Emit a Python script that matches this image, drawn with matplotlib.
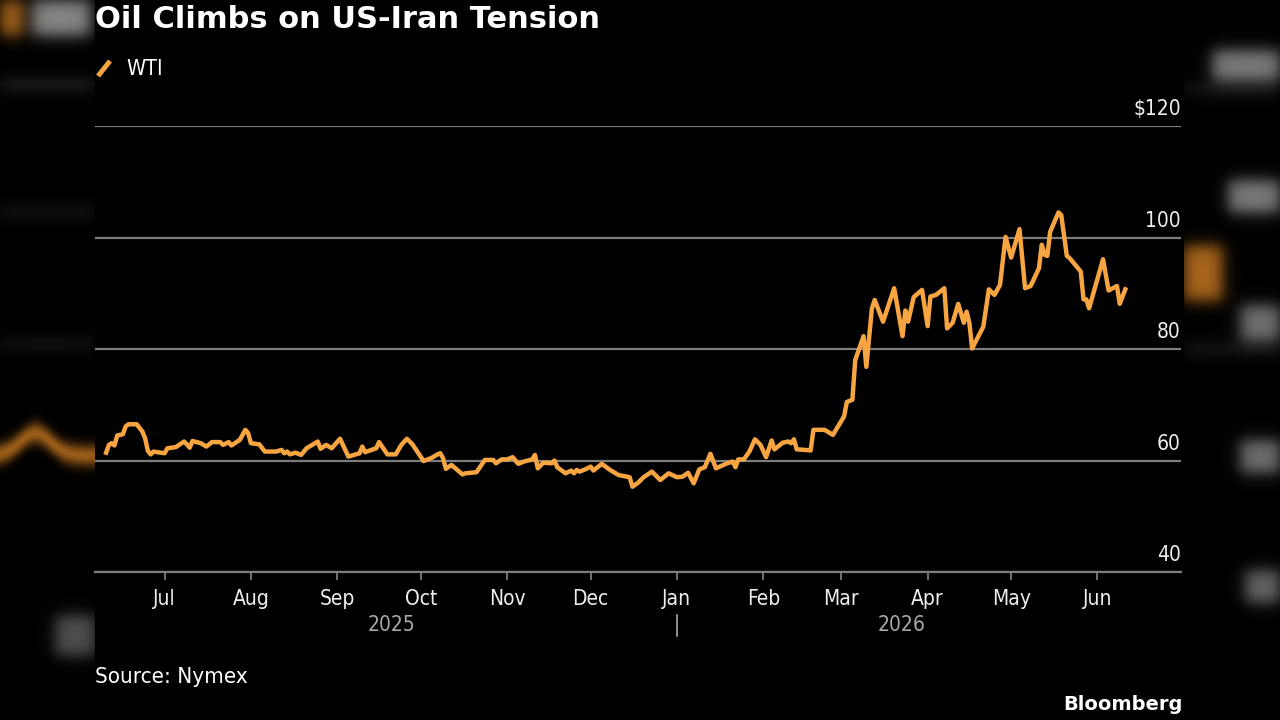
import numpy as np
import pandas as pd
import matplotlib
matplotlib.use('Agg')
import matplotlib.pyplot as plt
import matplotlib.dates as mdates
import matplotlib.transforms as mtransforms

plt.rcParams['font.family'] = ['DejaVu Sans']
plt.rcParams['font.stretch'] = 'condensed'

# WTI front-month price
dates = ['2025-06-10', '2025-06-11', '2025-06-12', '2025-06-13', '2025-06-14', '2025-06-16',
         '2025-06-17', '2025-06-18', '2025-06-21', '2025-06-23', '2025-06-24', '2025-06-25',
         '2025-06-26', '2025-06-27', '2025-07-01', '2025-07-02', '2025-07-05', '2025-07-08',
         '2025-07-09', '2025-07-10', '2025-07-11', '2025-07-14', '2025-07-16', '2025-07-18',
         '2025-07-21', '2025-07-22', '2025-07-24', '2025-07-25', '2025-07-28', '2025-07-30',
         '2025-07-31', '2025-08-01', '2025-08-04', '2025-08-06', '2025-08-10', '2025-08-12',
         '2025-08-13', '2025-08-14', '2025-08-15', '2025-08-17', '2025-08-19', '2025-08-21',
         '2025-08-25', '2025-08-26', '2025-08-28', '2025-08-30', '2025-09-02', '2025-09-05',
         '2025-09-09', '2025-09-10', '2025-09-11', '2025-09-15', '2025-09-16', '2025-09-19',
         '2025-09-22', '2025-09-24', '2025-09-26', '2025-09-28', '2025-10-02', '2025-10-05',
         '2025-10-07', '2025-10-08', '2025-10-09', '2025-10-10', '2025-10-12', '2025-10-16',
         '2025-10-17', '2025-10-21', '2025-10-24', '2025-10-27', '2025-10-28', '2025-10-30',
         '2025-11-01', '2025-11-03', '2025-11-05', '2025-11-07', '2025-11-10', '2025-11-11',
         '2025-11-12', '2025-11-14', '2025-11-17', '2025-11-18', '2025-11-19', '2025-11-22',
         '2025-11-24', '2025-11-25', '2025-11-26', '2025-11-27', '2025-11-29', '2025-12-01',
         '2025-12-02', '2025-12-05', '2025-12-08', '2025-12-11', '2025-12-15', '2025-12-16',
         '2025-12-18', '2025-12-20', '2025-12-23', '2025-12-26', '2025-12-29', '2026-01-01',
         '2026-01-03', '2026-01-05', '2026-01-07', '2026-01-09', '2026-01-11', '2026-01-13',
         '2026-01-15', '2026-01-19', '2026-01-21', '2026-01-22', '2026-01-23', '2026-01-25',
         '2026-01-27', '2026-01-29', '2026-01-31', '2026-02-02', '2026-02-04', '2026-02-05',
         '2026-02-08', '2026-02-10', '2026-02-11', '2026-02-12', '2026-02-13', '2026-02-16',
         '2026-02-18', '2026-02-19', '2026-02-23', '2026-02-26', '2026-03-02', '2026-03-03',
         '2026-03-05', '2026-03-06', '2026-03-09', '2026-03-10', '2026-03-12', '2026-03-13',
         '2026-03-16', '2026-03-20', '2026-03-23', '2026-03-24', '2026-03-25', '2026-03-27',
         '2026-03-30', '2026-04-01', '2026-04-02', '2026-04-04', '2026-04-07', '2026-04-08',
         '2026-04-10', '2026-04-12', '2026-04-14', '2026-04-15', '2026-04-16', '2026-04-17',
         '2026-04-21', '2026-04-23', '2026-04-25', '2026-04-27', '2026-04-29', '2026-05-01',
         '2026-05-04', '2026-05-06', '2026-05-08', '2026-05-11', '2026-05-12', '2026-05-13',
         '2026-05-14', '2026-05-15', '2026-05-18', '2026-05-19', '2026-05-21', '2026-05-22',
         '2026-05-26', '2026-05-27', '2026-05-28', '2026-05-29', '2026-06-03', '2026-06-05',
         '2026-06-08', '2026-06-09', '2026-06-11']
wti = [61.4, 62.8, 63.1, 62.7, 64.5, 64.7,
       66.1, 66.5, 66.5, 65.2, 64.0, 61.7,
       61.1, 61.6, 61.3, 62.2, 62.4, 63.4,
       62.9, 62.3, 63.5, 63.1, 62.5, 63.3,
       63.3, 62.8, 63.3, 62.7, 63.7, 65.5,
       64.9, 63.1, 62.9, 61.6, 61.6, 61.9,
       61.3, 61.6, 61.1, 61.4, 61.0, 62.2,
       63.4, 62.1, 62.8, 62.2, 63.9, 60.7,
       61.3, 62.5, 61.5, 62.2, 63.3, 61.1,
       61.1, 62.8, 63.9, 62.9, 59.9, 60.5,
       61.1, 61.3, 60.4, 58.5, 59.2, 57.5,
       57.7, 57.9, 60.1, 60.1, 59.5, 60.2,
       60.2, 60.6, 59.4, 59.8, 60.2, 61.0,
       58.6, 59.6, 59.5, 60.0, 58.8, 57.7,
       58.2, 57.7, 58.3, 58.0, 58.4, 58.9,
       58.2, 59.4, 58.3, 57.4, 57.0, 55.3,
       56.0, 57.0, 58.0, 56.5, 57.7, 57.0,
       57.1, 57.8, 55.9, 58.4, 58.8, 61.2,
       58.6, 59.5, 59.8, 58.8, 60.2, 60.2,
       61.6, 63.8, 62.8, 60.6, 63.6, 62.0,
       63.2, 63.4, 63.1, 63.8, 62.0, 61.9,
       61.8, 65.5, 65.5, 64.6, 67.9, 70.5,
       70.9, 78.0, 82.3, 76.8, 87.3, 88.8,
       84.9, 90.9, 82.3, 86.9, 84.9, 89.3,
       90.6, 84.1, 89.4, 89.7, 90.9, 83.7,
       84.7, 88.1, 84.7, 86.7, 84.7, 80.1,
       84.0, 90.7, 89.7, 91.5, 100.1, 96.4,
       101.5, 90.9, 91.3, 94.5, 98.7, 96.9,
       96.7, 101.0, 104.5, 104.0, 96.7, 96.3,
       93.9, 88.9, 88.9, 87.3, 96.1, 90.5,
       91.3, 88.1, 90.7]

y_ticks = [40, 60, 80, 100, 120]
y_labels = ['40', '60', '80', '100', '$120']
month_ticks = ['2025-07-01', '2025-08-01', '2025-09-01', '2025-10-01', '2025-11-01', '2025-12-01',
               '2026-01-01', '2026-02-01', '2026-03-01', '2026-04-01', '2026-05-01', '2026-06-01']
month_labels = ['Jul', 'Aug', 'Sep', 'Oct', 'Nov', 'Dec', 'Jan', 'Feb', 'Mar', 'Apr', 'May', 'Jun']

orange = '#f7a541'
grid_c = '#7c7c7c'
W, H = 1280, 720

fig = plt.figure(figsize=(12.8, 7.2), dpi=100, facecolor='black')

# blurred page content on both sides of the graphic
yy, xx = np.mgrid[0:H, 0:W].astype(float)
def soft_box(x0, x1, y0, y1, s):
    return 0.25 * (np.tanh((xx - x0) / s) - np.tanh((xx - x1) / s)) * (np.tanh((yy - y0) / s) - np.tanh((yy - y1) / s))
bg = np.zeros((H, W, 3))
blobs = [((0, 22, 0, 35), (0.75, 0.45, 0.12), 0.9), ((32, 90, 0, 35), (0.6, 0.6, 0.6), 0.9),
         ((0, 95, 80, 88), (0.25, 0.25, 0.25), 0.8), ((0, 95, 208, 214), (0.2, 0.2, 0.2), 0.8),
         ((0, 95, 340, 346), (0.2, 0.2, 0.2), 0.8), ((55, 95, 615, 655), (0.35, 0.35, 0.35), 0.9),
         ((1212, 1280, 50, 80), (0.55, 0.55, 0.55), 0.9), ((1228, 1280, 180, 212), (0.55, 0.55, 0.55), 0.9),
         ((1240, 1280, 305, 340), (0.5, 0.5, 0.5), 0.9), ((1240, 1280, 440, 472), (0.5, 0.5, 0.5), 0.9),
         ((1245, 1280, 570, 602), (0.45, 0.45, 0.45), 0.9), ((1183, 1280, 85, 92), (0.2, 0.2, 0.2), 0.8),
         ((1183, 1280, 345, 352), (0.2, 0.2, 0.2), 0.8), ((1183, 1222, 245, 300), (0.75, 0.45, 0.12), 0.9)]
for (x0, x1, y0, y1), col, a in blobs:
    m = soft_box(x0, x1, y0, y1, 9) * a
    bg += m[..., None] * np.array(col)
# orange wave on the left edge only
wave_y = 455 - 22 * np.exp(-((xx - 35) / 22) ** 2)
wave = np.exp(-((yy - wave_y) / 11) ** 2) * 0.8 * (xx < 100)
bg += wave[..., None] * np.array([0.75, 0.45, 0.12])
bg[:, 95:1184] = 0
fig.figimage(np.clip(bg, 0, 1), xo=0, yo=0, origin='upper', zorder=-5)

ax = fig.add_axes([95 / W, 1 - 572 / H, (1181 - 95) / W, (572 - 126) / H])
ax.set_facecolor('none')
ax.set_zorder(2)

x = pd.to_datetime(dates)
ax.plot(x, wti, color=orange, lw=3.2, solid_joinstyle='round', zorder=3)

ax.set_ylim(40, 120)
ax.set_xlim(pd.Timestamp('2025-06-06'), pd.Timestamp('2026-07-01'))
ax.set_yticks(y_ticks)
ax.yaxis.grid(True, color=grid_c, lw=1.6)
ax.tick_params(axis='y', length=0, labelleft=False)
for v, lab in zip(y_ticks, y_labels):
    ax.annotate(lab, xy=(1, v), xycoords=('axes fraction', 'data'), xytext=(0, 5),
                textcoords='offset points', ha='right', va='bottom', color='#eeeeee', fontsize=15)

ax.set_xticks(pd.to_datetime(month_ticks))
ax.set_xticklabels(month_labels)
ax.tick_params(axis='x', length=6, width=1.3, color=grid_c, labelcolor='#eeeeee', labelsize=15, pad=6)
for s in ['top', 'right', 'left']:
    ax.spines[s].set_visible(False)
ax.spines['bottom'].set_color(grid_c)
ax.spines['bottom'].set_linewidth(1.6)

# year labels and separator
trans = mtransforms.blended_transform_factory(ax.transData, ax.transAxes)
mid25 = x[0] + (pd.Timestamp('2026-01-01') - x[0]) / 2
mid26 = pd.Timestamp('2026-01-01') + (x[-1] - pd.Timestamp('2026-01-01')) / 2
ax.text(mid25, -0.118, '2025', transform=trans, ha='center', va='center', color='#a8a8a8', fontsize=15)
ax.text(mid26, -0.118, '2026', transform=trans, ha='center', va='center', color='#a8a8a8', fontsize=15)
jan = mdates.date2num(pd.Timestamp('2026-01-01'))
ax.plot([jan, jan], [-0.097, -0.143], transform=trans, color='#a8a8a8', lw=1.2, clip_on=False)

fig.text(95 / W, 1 - 19 / H, 'Oil Climbs on US-Iran Tension', ha='left', va='center',
         color='white', fontsize=22, fontweight='bold', fontstretch='normal')
fig.add_artist(plt.Line2D([98 / W, 110 / W], [1 - 76 / H, 1 - 61 / H], color=orange, lw=3.5,
                          solid_capstyle='butt'))
fig.text(126 / W, 1 - 69 / H, 'WTI', ha='left', va='center', color='white', fontsize=15.5)
fig.text(95 / W, 1 - 677 / H, 'Source: Nymex', ha='left', va='center', color='white', fontsize=16)
fig.text(1183 / W, 1 - 704 / H, 'Bloomberg', ha='right', va='center', color='white', fontsize=14,
         fontweight='bold', fontstretch='normal')

fig.savefig('out.png', dpi=100, facecolor='black')
